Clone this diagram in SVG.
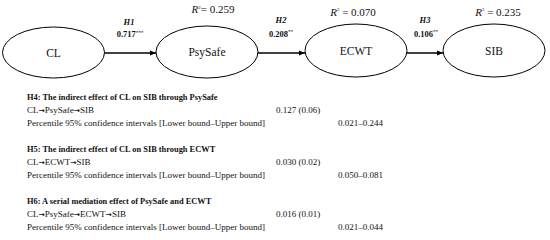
<svg xmlns="http://www.w3.org/2000/svg" width="550" height="240" viewBox="0 0 550 240">
<defs>
<marker id="ah" viewBox="0 0 10 10" refX="10" refY="5" markerWidth="6" markerHeight="6" markerUnits="userSpaceOnUse" orient="auto">
<path d="M0,1 L10,5 L0,9 z" fill="#000"/>
</marker>
</defs>
<style>
text{font-family:"Liberation Serif","Times New Roman",serif;fill:#111}
.node{fill:#fff;stroke:#000;stroke-width:1}
.lbl{font-family:"Liberation Serif","Times New Roman",serif;font-size:11.5px;text-anchor:middle}
.r2{font-size:11px;text-anchor:middle}
.h{font-size:8.5px;font-weight:bold;font-style:italic;text-anchor:middle}
.coef{font-size:8.5px;font-weight:bold;text-anchor:middle}
.sup{font-size:5px}
.edge{stroke:#000;stroke-width:1.5;fill:none;marker-end:url(#ah)}
.tb{font-size:9px}
.th{font-size:8.4px;font-weight:bold}
.ar{font-family:"DejaVu Sans",sans-serif;font-weight:bold;font-size:7.5px}
</style>
<g id="connectors">
<line class="edge" x1="104" y1="53" x2="156" y2="53"/>
<line class="edge" x1="258" y1="53" x2="305" y2="53"/>
<line class="edge" x1="407" y1="53" x2="443" y2="53"/>
</g>
<g id="node-CL">
<ellipse class="node" cx="53.5" cy="52.5" rx="51" ry="25.5"/>
<text class="lbl" x="53.5" y="56.5">CL</text>
</g>
<g id="node-PsySafe">
<ellipse class="node" cx="207" cy="52" rx="51" ry="26"/>
<text class="lbl" x="207" y="56">PsySafe</text>
<text class="r2" x="213" y="13"><tspan font-style="italic">R</tspan><tspan class="sup" dy="-4">2</tspan><tspan dy="4">= 0.259</tspan></text>
</g>
<g id="node-ECWT">
<ellipse class="node" cx="356" cy="50.5" rx="51" ry="26.5"/>
<text class="lbl" x="356" y="54.5">ECWT</text>
<text class="r2" x="353" y="16"><tspan font-style="italic">R</tspan><tspan class="sup" dy="-5">2</tspan><tspan dy="5"> = 0.070</tspan></text>
</g>
<g id="node-SIB">
<ellipse class="node" cx="494" cy="50.5" rx="51" ry="26.5"/>
<text class="lbl" x="494" y="54.5">SIB</text>
<text class="r2" x="498" y="16"><tspan font-style="italic">R</tspan><tspan class="sup" dy="-5">2</tspan><tspan dy="5"> = 0.235</tspan></text>
</g>
<g id="edge-labels">
<text class="h" x="129" y="25">H1</text>
<text class="coef" x="130" y="37">0.717<tspan class="sup" dy="-3">***</tspan></text>
<text class="h" x="281" y="23">H2</text>
<text class="coef" x="281" y="37">0.208<tspan class="sup" dy="-4">**</tspan></text>
<text class="h" x="425" y="23">H3</text>
<text class="coef" x="426" y="37">0.106<tspan class="sup" dy="-4">**</tspan></text>
</g>
<g id="table">
<text class="th" x="27" y="100">H4: The indirect effect of CL on SIB through PsySafe</text>
<text class="tb" x="27" y="113">CL<tspan class="ar">→</tspan>PsySafe<tspan class="ar">→</tspan>SIB</text>
<text class="tb" x="276" y="113">0.127 (0.06)</text>
<text class="tb" x="27" y="126">Percentile 95% confidence intervals [Lower bound–Upper bound]</text>
<text class="tb" x="338" y="126">0.021–0.244</text>
<text class="th" x="27" y="152">H5: The indirect effect of CL on SIB through ECWT</text>
<text class="tb" x="27" y="165">CL<tspan class="ar">→</tspan>ECWT<tspan class="ar">→</tspan>SIB</text>
<text class="tb" x="276" y="165">0.030 (0.02)</text>
<text class="tb" x="27" y="178">Percentile 95% confidence intervals [Lower bound–Upper bound]</text>
<text class="tb" x="338" y="178">0.050–0.081</text>
<text class="th" x="27" y="204">H6: A serial mediation effect of PsySafe and ECWT</text>
<text class="tb" x="27" y="217">CL<tspan class="ar">→</tspan>PsySafe<tspan class="ar">→</tspan>ECWT<tspan class="ar">→</tspan>SIB</text>
<text class="tb" x="276" y="217">0.016 (0.01)</text>
<text class="tb" x="27" y="230">Percentile 95% confidence intervals [Lower bound–Upper bound]</text>
<text class="tb" x="338" y="230">0.021–0.044</text>
</g>
</svg>
